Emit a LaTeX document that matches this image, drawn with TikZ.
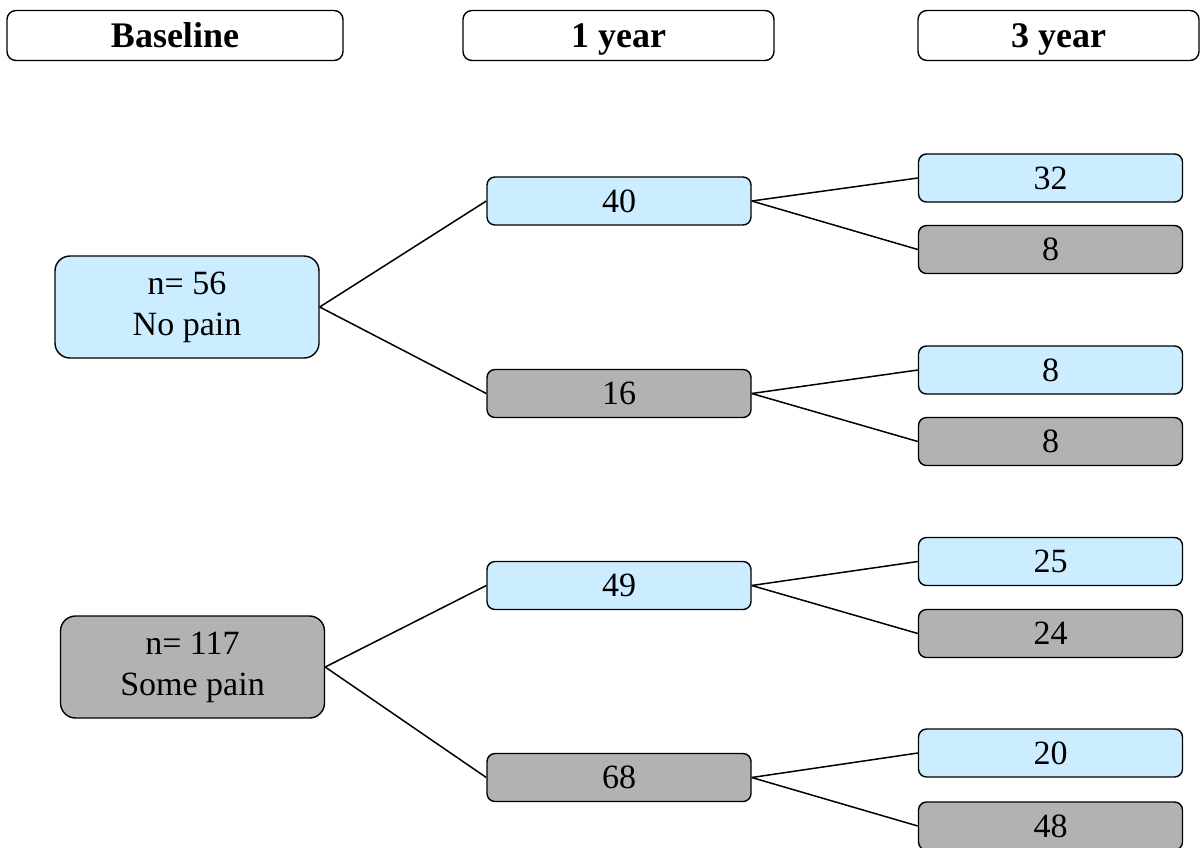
\documentclass[tikz,border=0pt]{standalone}
\usepackage{fontspec}
\setmainfont{Liberation Serif}
\definecolor{lblue}{HTML}{CCECFF}
\definecolor{lgray}{HTML}{B2B2B2}
\tikzset{
  base/.style={draw=black, line width=1.4pt, inner sep=0pt, align=center},
  header/.style={base, fill=white, rounded corners=9pt, minimum height=50pt, text height=24pt, text depth=0pt, font=\fontsize{36}{43}\bfseries\selectfont},
  big/.style={base, rounded corners=15pt, minimum width=264pt, minimum height=102pt, font=\fontsize{34}{41}\selectfont},
  small/.style={base, rounded corners=8pt, minimum width=264pt, minimum height=48pt, font=\fontsize{34}{41}\selectfont},
  bl/.style={fill=lblue},
  gr/.style={fill=lgray},
  link/.style={draw=black, line width=1.5pt}
}
\begin{document}
\begin{tikzpicture}[x=1pt,y=-1pt]
\useasboundingbox (0,0) rectangle (1204,847);
% headers
\node[header, minimum width=336pt] (h0) at (175,35.5) {Baseline};
\node[header, minimum width=311pt] (h1) at (618.5,35.5) {1 year};
\node[header, minimum width=281pt] (h3) at (1058.5,35.5) {3 year};
% baseline
\node[big, bl] (np) at (187,307) {n= 56\\No pain};
\node[big, gr] (sp) at (192.5,667) {n= 117\\Some pain};
% 1 year
\node[small, bl] (a40) at (619,201) {40};
\node[small, gr] (a16) at (619,393.5) {16};
\node[small, bl] (a49) at (619,585.5) {49};
\node[small, gr] (a68) at (619,777.5) {68};
% 3 year
\node[small, bl] (b32) at (1050.5,178) {32};
\node[small, gr] (b8a) at (1050.5,249.5) {8};
\node[small, bl] (b8b) at (1050.5,370) {8};
\node[small, gr] (b8c) at (1050.5,441.5) {8};
\node[small, bl] (b25) at (1050.5,561.5) {25};
\node[small, gr] (b24) at (1050.5,633.5) {24};
\node[small, bl] (b20) at (1050.5,753) {20};
\node[small, gr] (b48) at (1050.5,826) {48};
% connectors
\draw[link] (np.east) -- (a40.west);
\draw[link] (np.east) -- (a16.west);
\draw[link] (sp.east) -- (a49.west);
\draw[link] (sp.east) -- (a68.west);
\draw[link] (a40.east) -- (b32.west);
\draw[link] (a40.east) -- (b8a.west);
\draw[link] (a16.east) -- (b8b.west);
\draw[link] (a16.east) -- (b8c.west);
\draw[link] (a49.east) -- (b25.west);
\draw[link] (a49.east) -- (b24.west);
\draw[link] (a68.east) -- (b20.west);
\draw[link] (a68.east) -- (b48.west);
\end{tikzpicture}
\end{document}
